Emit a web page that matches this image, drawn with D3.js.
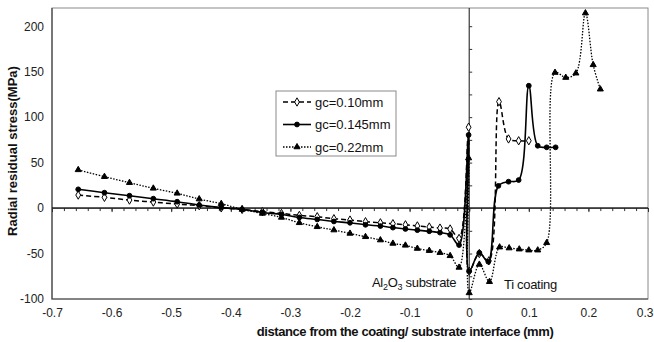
<!DOCTYPE html>
<html>
<head>
<meta charset="utf-8">
<script src="https://cdn.jsdelivr.net/npm/d3@7"></script>
<style>
  body { margin: 0; background: #fff; }
  svg { font-family: "Liberation Sans", Arial, sans-serif; }
</style>
</head>
<body>
<svg id="chart"></svg>
<script>
// substrate side (x < 0), shared mesh positions
const subX = [-0.656, -0.612, -0.570, -0.530, -0.490, -0.453, -0.416, -0.381, -0.347, -0.315,
              -0.285, -0.255, -0.227, -0.200, -0.174, -0.149, -0.128, -0.107, -0.087, -0.067,
              -0.049, -0.032, -0.017, -0.001];
const gc010Sub  = [14.3, 11.8, 8.8, 6.6, 4.4, 2.6, 0.2, -1.5, -4, -5.9,
                   -8.1, -9.5, -11.7, -13.2, -15, -16.2, -17.2, -18.4, -19.6, -20.8,
                   -22, -23, -33.4, 88.9];
const gc0145Sub = [20.6, 16.9, 13.6, 10.3, 7, 3.3, 0.5, -1.5, -4.8, -7,
                   -10.3, -12.5, -14.7, -16.2, -18.4, -19.8, -21.5, -23, -24.3, -25.5,
                   -27, -29.5, -40.7, 80.4];
const gc022Sub  = [42, 34.5, 27.9, 21.7, 16.2, 9.9, 4.8, -1.5, -5.9, -10.3,
                   -16.2, -20.6, -24.2, -27.9, -31.6, -35.2, -38.9, -41, -44.5, -46.8,
                   -49, -52.5, -65.3, 55];

// coating side (x >= 0)
const gc010CoatX  = [0, 0.017, 0.033, 0.05, 0.066, 0.083, 0.1];
const gc010Coat   = [-69.4, -50, -58, 117, 76, 74, 74];
const gc0145CoatX = [0, 0.017, 0.032, 0.049, 0.066, 0.083, 0.1, 0.115, 0.13, 0.145];
const gc0145Coat  = [-69.4, -49.2, -59, 24.4, 29, 30.8, 134.5, 68.5, 66.8, 66.8];
const gc022CoatX  = [0, 0.017, 0.034, 0.051, 0.067, 0.084, 0.1, 0.115, 0.13, 0.144,
                     0.162, 0.179, 0.195, 0.208, 0.22];
const gc022Coat   = [-93.3, -62, -81, -43, -44, -45.2, -46.3, -46.3, -38.2, 149,
                     143.5, 148.3, 214.4, 157.5, 130.7];

const seriesNames = ["gc=0.10mm", "gc=0.145mm", "gc=0.22mm"];
const xTicks = [-0.7, -0.6, -0.5, -0.4, -0.3, -0.2, -0.1, 0, 0.1, 0.2, 0.3];
const yTicks = [-100, -50, 0, 50, 100, 150, 200];

const W = 654, H = 342;
const plot = {left: 52, right: 648, top: 8, bottom: 299};

const svg = d3.select("#chart").attr("width", W).attr("height", H);

const x = d3.scaleLinear().domain([-0.7, 0.3]).range([plot.left, plot.right]);
const y = d3.scaleLinear().domain([-100, 220]).range([plot.bottom, plot.top]);

// frame
svg.append("rect")
   .attr("x", plot.left).attr("y", plot.top)
   .attr("width", plot.right - plot.left).attr("height", plot.bottom - plot.top)
   .attr("fill", "none").attr("stroke", "#8a8a8a").attr("stroke-width", 1);
svg.append("path")
   .attr("d", `M${plot.left},${plot.top}V${plot.bottom}H${plot.right}`)
   .attr("fill", "none").attr("stroke", "#444").attr("stroke-width", 1.2);

// tick labels on the frame (plain hyphen minus, as in the original)
const xLab = svg.append("g")
   .attr("transform", `translate(0,${plot.bottom})`)
   .call(d3.axisBottom(x).tickValues(xTicks).tickSize(0).tickPadding(9).tickFormat(d => String(d)));
const yLab = svg.append("g")
   .attr("transform", `translate(${plot.left},0)`)
   .call(d3.axisLeft(y).tickValues(yTicks).tickSize(0).tickPadding(8).tickFormat(d => String(d)));
[xLab, yLab].forEach(g => {
  g.select(".domain").remove();
  g.selectAll("text").attr("font-size", 12).attr("fill", "#222")
   .attr("font-family", "'Liberation Sans', Arial, sans-serif");
});
// last label sits at the page edge: keep it inside
xLab.selectAll(".tick").filter(d => d === 0.3).select("text")
    .attr("text-anchor", "end").attr("x", W - plot.right - 1);

// axis lines crossing at zero, with minor ticks
const xZero = svg.append("g").attr("transform", `translate(0,${y(0)})`);
xZero.call(d3.axisBottom(x).tickValues(d3.range(-35, 16).map(i => i * 0.02)).tickSize(3).tickFormat(""));
xZero.call(g => g.append("g").call(d3.axisBottom(x).tickValues(xTicks).tickSize(4).tickFormat("")));
xZero.selectAll(".domain").attr("stroke", "#111").attr("d", `M${plot.left},0H${plot.right}`);
xZero.selectAll("line").attr("stroke", "#333");

const yZero = svg.append("g").attr("transform", `translate(${x(0)},0)`);
yZero.call(d3.axisRight(y).tickValues(d3.range(-100, 221, 25)).tickSize(3).tickFormat(""));
yZero.select(".domain").attr("stroke", "#111").attr("d", `M0,${plot.top}V${plot.bottom}`);
yZero.selectAll("line").attr("stroke", "#333");

// series
const series = [
  {name: seriesNames[0], xs: subX.concat(gc010CoatX), ys: gc010Sub.concat(gc010Coat), dash: "5,3", width: 1.5, marker: "diamond"},
  {name: seriesNames[1], xs: subX.concat(gc0145CoatX), ys: gc0145Sub.concat(gc0145Coat), dash: null, width: 1.6, marker: "circle"},
  {name: seriesNames[2], xs: subX.concat(gc022CoatX), ys: gc022Sub.concat(gc022Coat), dash: "1.5,1.5", width: 1.3, marker: "triangle"}
];

const line = d3.line().x(d => x(d[0])).y(d => y(d[1])).curve(d3.curveCatmullRom.alpha(0.5));

const symbolOf = {
  diamond: d3.symbol().type(d3.symbolDiamond).size(20),
  circle: d3.symbol().type(d3.symbolCircle).size(18),
  triangle: d3.symbol().type(d3.symbolTriangle).size(16)
};

series.forEach(s => {
  const pts = s.xs.map((v, i) => [v, s.ys[i]]);
  svg.append("path")
     .datum(pts)
     .attr("fill", "none").attr("stroke", "#000")
     .attr("stroke-width", s.width)
     .attr("stroke-dasharray", s.dash)
     .attr("d", line);
  svg.append("g").selectAll("path")
     .data(pts)
     .join("path")
     .attr("transform", d => `translate(${x(d[0])},${y(d[1])})`)
     .attr("d", symbolOf[s.marker]())
     .attr("fill", s.marker === "diamond" ? "#fff" : "#000")
     .attr("stroke", "#000").attr("stroke-width", 1);
});

// region labels
const al = svg.append("text").attr("x", 372).attr("y", 287).attr("font-size", 13).attr("fill", "#111")
   .attr("letter-spacing", -0.3);
al.append("tspan").text("Al");
al.append("tspan").attr("font-size", 9).attr("dy", 3).text("2");
al.append("tspan").attr("dy", -3).text("O");
al.append("tspan").attr("font-size", 9).attr("dy", 3).text("3");
al.append("tspan").attr("dy", -3).text(" substrate");
svg.append("text").attr("x", 504).attr("y", 289).attr("font-size", 13).attr("fill", "#111")
   .attr("letter-spacing", -0.3).text("Ti coating");

// legend
const lg = svg.append("g");
lg.append("rect").attr("x", 276).attr("y", 91).attr("width", 120).attr("height", 65)
  .attr("fill", "#fff").attr("stroke", "#8a8a8a");
series.forEach((s, i) => {
  const ry = 102 + i * 22.5;
  lg.append("line").attr("x1", 283).attr("x2", 311).attr("y1", ry).attr("y2", ry)
    .attr("stroke", "#000").attr("stroke-width", s.width).attr("stroke-dasharray", s.dash);
  lg.append("path").attr("transform", `translate(297,${ry})`)
    .attr("d", symbolOf[s.marker]())
    .attr("fill", s.marker === "diamond" ? "#fff" : "#000").attr("stroke", "#000");
  lg.append("text").attr("x", 315).attr("y", ry + 4.5).attr("font-size", 13).attr("fill", "#111").text(s.name);
});

// axis titles
svg.append("text").attr("x", 405).attr("y", 336).attr("text-anchor", "middle")
   .attr("font-size", 13).attr("font-weight", "bold").attr("fill", "#111")
   .attr("letter-spacing", -0.4)
   .text("distance from the coating/ substrate interface (mm)");
svg.append("text").attr("transform", `translate(17,151) rotate(-90)`).attr("text-anchor", "middle")
   .attr("font-size", 13).attr("font-weight", "bold").attr("fill", "#111")
   .text("Radial residual stress(MPa)");
</script>
</body>
</html>
